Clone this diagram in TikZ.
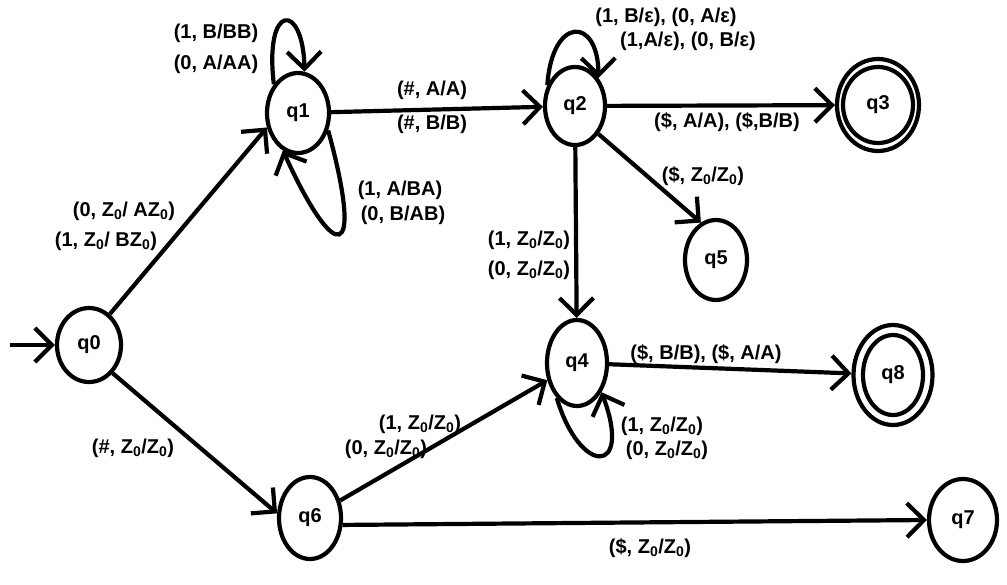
\documentclass[tikz,border=0pt]{standalone}
\usepackage{fontspec}
\setmainfont{Liberation Sans}
\usetikzlibrary{arrows.meta,shapes.geometric}

\begin{document}
\begin{tikzpicture}[x=1pt,y=-1pt,line width=4.2pt,
    >={Straight Barb[length=17pt,width=34pt]},
    state/.style={ellipse,draw,inner sep=0pt,font=\bfseries\fontsize{20}{24}\selectfont},
    lbl/.style={inner sep=0pt,font=\bfseries\fontsize{20}{24}\selectfont}]
  \useasboundingbox (0,0) rectangle (1007,584);
  % states
  \node[state,minimum width=64,minimum height=74] (q0) at (89,345) {q0};
  \node[state,minimum width=62,minimum height=80] (q1) at (298,113) {q1};
  \node[state,minimum width=60,minimum height=78] (q2) at (575,106) {q2};
  \node[state,minimum width=82,minimum height=92] (q3) at (878,105) {q3};
  \node[state,minimum width=60,minimum height=86] (q4) at (577,363) {q4};
  \node[state,minimum width=62,minimum height=80] (q5) at (716,260) {q5};
  \node[state,minimum width=62,minimum height=82] (q6) at (310,518) {q6};
  \node[state,minimum width=68,minimum height=82] (q7) at (963,520) {q7};
  \node[state,minimum width=79,minimum height=100] (q8) at (893,375) {q8};
  \draw (q3.center) ellipse [x radius=35pt,y radius=38pt];
  \draw (q8.center) ellipse [x radius=30pt,y radius=40pt];
  \coordinate (start) at (10,345);
  % transitions
  \draw[->] (start) -- (q0.west);
  \draw[->] (q0.56) -- (q1.205);
  \draw[->] (q0.-50) -- (q6.172);
  \draw[->] (q1.130) .. controls (264,2) and (303,2) .. (q1.81);
  \draw[->] (q1.-30) .. controls (365,265) and (335,265) .. (q1.-112);
  \draw[->] (q1) -- (q2);
  \draw[->] (q2.143) .. controls (552,16) and (598,16) .. (q2.50);
  \draw[->] (q2) -- (q3);
  \draw[->] (q2.-50) -- (q5.112);
  \draw[->] (q2) -- (q4);
  \draw[->] (q4) -- (q8);
  \draw[->] (q4.-120) .. controls (580,476) and (633,476) .. (q4.-50);
  \draw[->] (q6) -- (q4);
  \draw[->] (q6.-12) -- (q7.west);
  % labels
  \node[lbl] (l01a) at (124,211) {(0, Z\textsubscript{0}/ AZ\textsubscript{0})};
  \node[lbl] (l01b) at (106,241) {(1, Z\textsubscript{0}/ BZ\textsubscript{0})};
  \node[lbl] (l06) at (133,448) {(\#, Z\textsubscript{0}/Z\textsubscript{0})};
  \node[lbl] (l11a) at (216,33) {(1, B/BB)};
  \node[lbl] (l11b) at (216,64) {(0, A/AA)};
  \node[lbl] (l11c) at (400,190) {(1, A/BA)};
  \node[lbl] (l11d) at (403,215) {(0, B/AB)};
  \node[lbl] (l12a) at (432,90) {(\#, A/A)};
  \node[lbl] (l12b) at (432,124) {(\#, B/B)};
  \node[lbl] (l22a) at (666,17) {(1, B/ε), (0, A/ε)};
  \node[lbl] (l22b) at (688,41) {(1,A/ε), (0, B/ε)};
  \node[lbl] (l23) at (727,122) {(\$, A/A), (\$,B/B)};
  \node[lbl] (l25) at (703,176) {(\$, Z\textsubscript{0}/Z\textsubscript{0})};
  \node[lbl] (l24a) at (529,240) {(1, Z\textsubscript{0}/Z\textsubscript{0})};
  \node[lbl] (l24b) at (529,270) {(0, Z\textsubscript{0}/Z\textsubscript{0})};
  \node[lbl] (l48) at (706,354) {(\$, B/B), (\$, A/A)};
  \node[lbl] (l44a) at (662,426) {(1, Z\textsubscript{0}/Z\textsubscript{0})};
  \node[lbl] (l44b) at (667,450) {(0, Z\textsubscript{0}/Z\textsubscript{0})};
  \node[lbl] (l64a) at (420,424) {(1, Z\textsubscript{0}/Z\textsubscript{0})};
  \node[lbl] (l64b) at (386,449) {(0, Z\textsubscript{0}/Z\textsubscript{0})};
  \node[lbl] (l67) at (650,548) {(\$, Z\textsubscript{0}/Z\textsubscript{0})};
\end{tikzpicture}
\end{document}
